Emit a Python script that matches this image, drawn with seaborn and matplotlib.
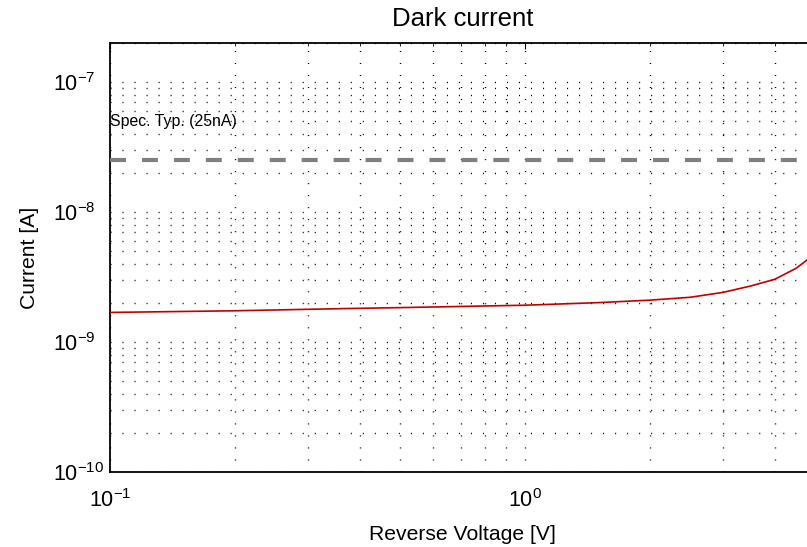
import numpy as np
import matplotlib
matplotlib.use("Agg")
import matplotlib.pyplot as plt
import seaborn as sns
from matplotlib.ticker import LogLocator, NullFormatter, FixedLocator

# ---- data ----
voltage = [0.1, 0.2, 0.37, 0.5, 1.0, 1.5, 2.0, 2.5, 3.0, 3.5, 4.0, 4.5, 4.78, 5.0]
current = [1.69e-9, 1.74e-9, 1.81e-9, 1.84e-9, 1.92e-9, 2.01e-9, 2.10e-9,
           2.21e-9, 2.41e-9, 2.70e-9, 3.04e-9, 3.69e-9, 4.27e-9, 4.85e-9]
spec_current = 25e-9
spec_label = "Spec. Typ. (25nA)"
spec_label_pos = (0.1, 5e-8)
title = "Dark current"
xlabel = "Reverse Voltage [V]"
ylabel = "Current [A]"
xlim = (0.1, 5.0)
ylim = (1e-10, 2e-7)
x_major = [0.1, 1.0]
y_major = [1e-10, 1e-9, 1e-8, 1e-7]

sns.set_theme(style="white")
plt.rcParams["font.family"] = ["Liberation Sans", "DejaVu Sans"]
plt.rcParams["mathtext.fontset"] = "custom"
plt.rcParams["mathtext.rm"] = "Liberation Sans"
plt.rcParams["mathtext.it"] = "Liberation Sans:italic"
plt.rcParams["mathtext.bf"] = "Liberation Sans:bold"
plt.rcParams["lines.scale_dashes"] = False

fig = plt.figure(figsize=(8.07, 5.47), dpi=100)
fig.patch.set_facecolor("white")
ax = fig.add_axes([110 / 807, 75 / 547, 705 / 807, 429 / 547])
ax.set_facecolor("white")
ax.set_xscale("log")
ax.set_yscale("log")

sns.lineplot(x=voltage, y=current, ax=ax, color="#c00000", linewidth=1.2, zorder=4)
ax.axhline(spec_current, color="#808080", linewidth=3, linestyle=(0, (11.5, 11.5)), zorder=3)
ax.text(spec_label_pos[0], spec_label_pos[1], spec_label, fontsize=11.4,
        ha="left", va="center", color="black", zorder=5)

ax.set_xlim(*xlim)
ax.set_ylim(*ylim)

ax.xaxis.set_major_locator(FixedLocator(x_major))
ax.yaxis.set_major_locator(FixedLocator(y_major))
for axis in (ax.xaxis, ax.yaxis):
    axis.set_minor_locator(LogLocator(base=10, subs=np.arange(2, 10), numticks=50))
    axis.set_minor_formatter(NullFormatter())

ax.set_axisbelow(True)
ax.grid(True, which="both", color="black", linewidth=1.0, linestyle=(0, (0.75, 7.9)))

ax.tick_params(which="major", direction="in", length=4.3, width=0.8, labelsize=15.5,
               top=True, right=True, color="black", labelcolor="black")
ax.tick_params(which="minor", direction="in", length=2.2, width=0.6,
               top=True, right=True, color="black")
ax.tick_params(axis="x", which="major", pad=12)
ax.tick_params(axis="y", which="major", pad=41)
for lbl in ax.get_yticklabels():
    lbl.set_horizontalalignment("left")

for s in ax.spines.values():
    s.set_color("black")
    s.set_linewidth(1.3)

ax.set_title(title, fontsize=18.5, pad=12, color="black")
ax.set_xlabel(xlabel, fontsize=15.2, labelpad=10, color="black")
ax.set_ylabel(ylabel, fontsize=15.2, color="black")
ax.yaxis.set_label_coords(-0.1007, 0.5)

fig.savefig("out.png", dpi=100, facecolor="white")
